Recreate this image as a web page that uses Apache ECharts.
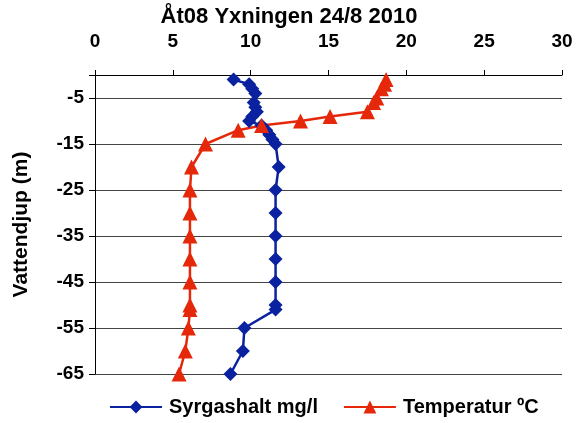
<!DOCTYPE html>
<html>
<head>
<meta charset="utf-8">
<script src="https://cdn.jsdelivr.net/npm/echarts@6/dist/echarts.min.js"></script>
<style>html,body{margin:0;padding:0;background:#fff}#c{width:579px;height:423px}</style>
</head>
<body>
<div id="c"></div>
<script>
const title = 'Åt08 Yxningen 24/8 2010';
const seriesNames = ['Syrgashalt mg/l', 'Temperatur ºC'];
const oxyDepth = [-1, -2, -3, -4, -6, -7, -8, -9, -10, -11, -12, -13, -14, -15, -20, -25, -30, -35, -40, -45, -50, -51, -55, -60, -65];
const oxyValue = [8.9, 9.9, 10.1, 10.3, 10.2, 10.3, 10.4, 10.1, 9.9, 10.7, 11.0, 11.2, 11.4, 11.6, 11.8, 11.6, 11.6, 11.6, 11.6, 11.6, 11.6, 11.6, 9.6, 9.5, 8.7];
const tempDepth = [-1, -2, -3, -5, -6, -8, -9, -10, -11, -12, -15, -20, -25, -30, -35, -40, -45, -50, -51, -55, -60, -65];
const tempValue = [18.7, 18.6, 18.4, 18.1, 17.9, 17.5, 15.1, 13.2, 10.7, 9.2, 7.1, 6.2, 6.1, 6.1, 6.1, 6.1, 6.1, 6.1, 6.1, 6.0, 5.8, 5.4];

const oxyData = oxyDepth.map((d, i) => [oxyValue[i], d]);
const tempData = tempDepth.map((d, i) => [tempValue[i], d]);

const font = 'Liberation Sans, Arial, sans-serif';
const chart = echarts.init(document.getElementById('c'));
chart.setOption({
  animation: false,
  title: {
    text: title, left: 284, textAlign: 'center', top: 1,
    textStyle: {fontFamily: font, fontSize: 22, fontWeight: 'bold', color: '#000'}
  },
  grid: {left: 95, right: 17, top: 75, bottom: 49, containLabel: false},
  legend: {
    bottom: 1, left: 104, itemWidth: 52, itemHeight: 16, itemGap: 25,
    textStyle: {fontFamily: font, fontSize: 20, fontWeight: 'bold', color: '#000', padding: [0, 0, 0, 2]},
    data: seriesNames
  },
  xAxis: {
    type: 'value', position: 'top', min: 0, max: 30, interval: 5,
    axisLine: {show: true, lineStyle: {color: '#000', width: 1}},
    axisTick: {show: true, length: 5, lineStyle: {color: '#000'}},
    splitLine: {show: false},
    axisLabel: {fontFamily: font, fontSize: 19, fontWeight: 'bold', color: '#000', margin: 24}
  },
  yAxis: {
    type: 'value', min: -65, max: 0, interval: 10,
    name: 'Vattendjup (m)', nameLocation: 'middle', nameGap: 63, nameRotate: 90,
    nameTextStyle: {fontFamily: font, fontSize: 21, fontWeight: 'bold', color: '#000'},
    axisLine: {show: true, onZero: false, lineStyle: {color: '#000', width: 1}},
    axisTick: {show: true, length: 6, lineStyle: {color: '#000'}},
    splitLine: {show: true, lineStyle: {color: '#444', width: 1}},
    axisLabel: {fontFamily: font, fontSize: 19, fontWeight: 'bold', color: '#000', margin: 11,
      formatter: v => v === 0 ? '' : String(v)}
  },
  series: [
    {
      name: seriesNames[0], type: 'line', data: oxyData,
      symbol: 'diamond', symbolSize: 14,
      lineStyle: {color: '#0a22a0', width: 2.5},
      itemStyle: {color: '#0a22a0'}
    },
    {
      name: seriesNames[1], type: 'line', data: tempData,
      symbol: 'triangle', symbolSize: 15,
      lineStyle: {color: '#e6280a', width: 2.5},
      itemStyle: {color: '#e6280a'}
    }
  ]
});
</script>
</body>
</html>
